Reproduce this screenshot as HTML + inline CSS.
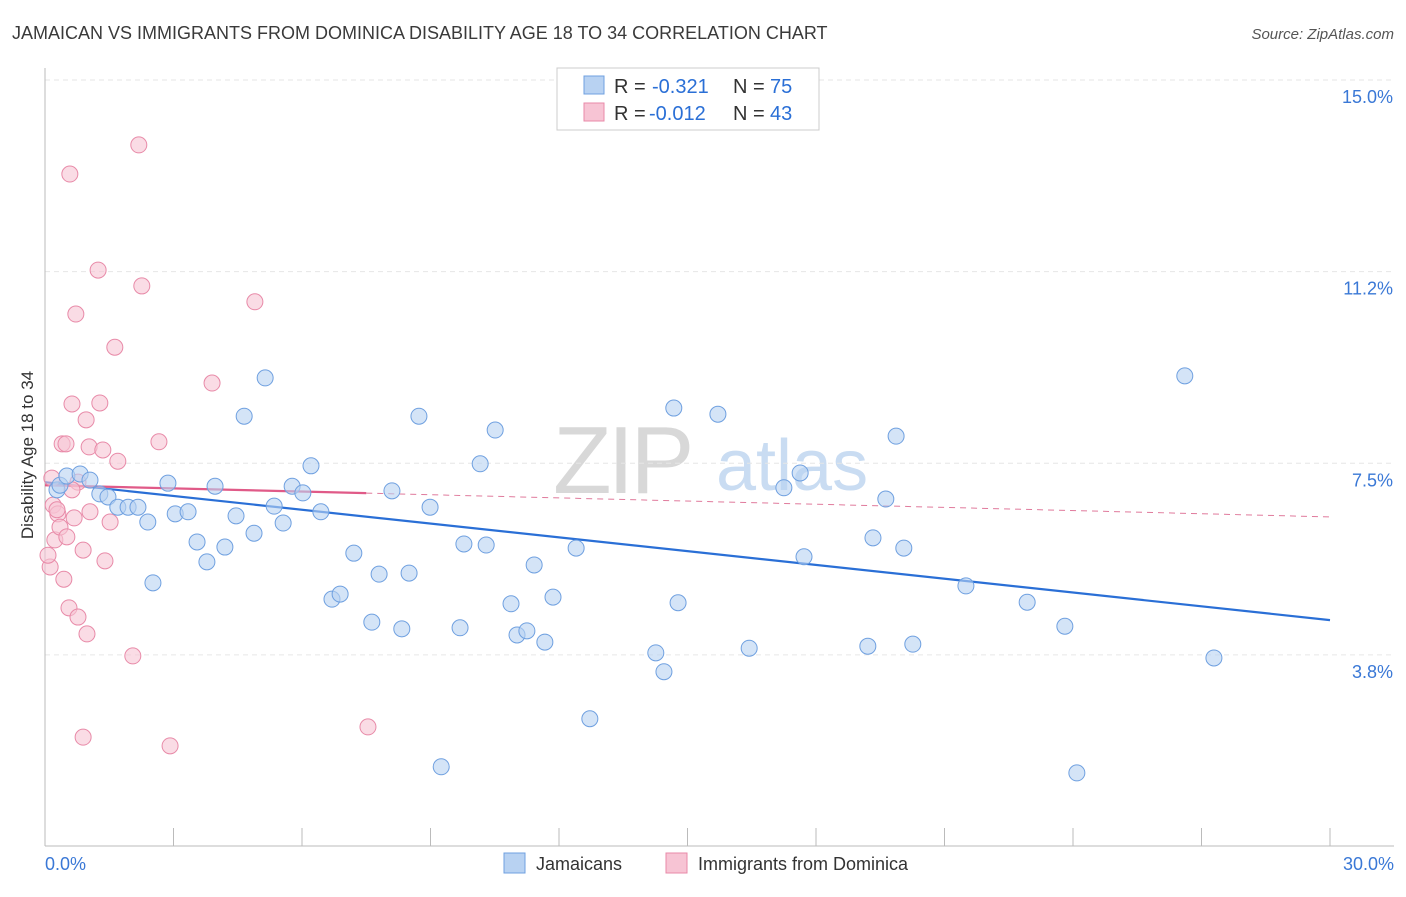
<!DOCTYPE html>
<html><head><meta charset="utf-8">
<style>
body{margin:0;background:#fff;font-family:"Liberation Sans",sans-serif;}
svg text{font-family:"Liberation Sans",sans-serif;}
</style></head>
<body>
<svg id="chart" width="1406" height="892" viewBox="0 0 1406 892">
<text x="12" y="39" font-size="18" fill="#3a3a3a">JAMAICAN VS IMMIGRANTS FROM DOMINICA DISABILITY AGE 18 TO 34 CORRELATION CHART</text>
<text x="1394" y="39" font-size="15" fill="#555" text-anchor="end" font-style="italic">Source: ZipAtlas.com</text>
<g>
<text x="553" y="493" font-size="96" fill="#d8d8d8" font-family="Liberation Serif" letter-spacing="-4">ZIP</text>
<text x="716" y="490" font-size="72" fill="#c9dcf2">atlas</text>
</g>
<text transform="translate(33,455) rotate(-90)" font-size="17" fill="#333" text-anchor="middle">Disability Age 18 to 34</text>
<g id="grid"></g>
<g id="axes"></g>
<g id="trend"></g>
<g id="points"></g>
<g>
<rect x="557" y="68" width="262" height="62" fill="#fff" stroke="#ccc"/>
<g>
<rect x="584" y="76" width="20" height="18" fill="#b8d2f2" stroke="#6fa0e0"/>
<text x="614" y="93" font-size="20" fill="#333">R =</text>
<text x="652" y="93" font-size="20" fill="#2a6fd6">-0.321</text>
<text x="733" y="93" font-size="20" fill="#333">N =</text>
<text x="770" y="93" font-size="20" fill="#2a6fd6">75</text>
</g>
<g>
<rect x="584" y="103" width="20" height="18" fill="#f7c4d4" stroke="#e88aa8"/>
<text x="614" y="120" font-size="20" fill="#333">R =</text>
<text x="649" y="120" font-size="20" fill="#2a6fd6">-0.012</text>
<text x="733" y="120" font-size="20" fill="#333">N =</text>
<text x="770" y="120" font-size="20" fill="#2a6fd6">43</text>
</g>
</g>
<g>
<g>
<rect x="504" y="853" width="21" height="20" fill="#b8d2f2" stroke="#6fa0e0"/>
<text x="536" y="870" font-size="18" fill="#333">Jamaicans</text>
</g>
<g>
<rect x="666" y="853" width="21" height="20" fill="#f7c4d4" stroke="#e88aa8"/>
<text x="698" y="870" font-size="18" fill="#333">Immigrants from Dominica</text>
</g>
</g>
</svg>
<script>
const yTicks=[15.0,11.25,7.5,3.75];
const yTickLabels=["15.0%","11.2%","7.5%","3.8%"];
const xTickLabels=["0.0%","30.0%"];
const blueX=[0.28,0.35,0.51,0.82,1.05,1.28,1.47,1.70,1.94,2.17,2.40,2.52,2.87,3.04,3.34,3.55,3.78,3.97,4.20,4.46,4.65,4.88,5.14,5.35,5.56,5.77,6.02,6.21,6.44,6.70,6.89,7.21,7.63,7.80,8.10,8.33,8.50,8.73,8.99,9.25,9.69,9.78,10.16,10.30,10.51,10.88,11.02,11.25,11.42,11.67,11.86,12.40,12.72,14.26,14.45,14.68,14.78,15.71,16.44,17.25,17.63,17.72,19.21,19.33,19.63,19.87,20.05,20.26,21.50,22.93,23.81,24.09,26.61,27.29];
const blueY=[6.98,7.07,7.25,7.29,7.17,6.90,6.84,6.64,6.64,6.64,6.35,5.16,7.11,6.51,6.55,5.96,5.57,7.05,5.86,6.47,8.42,6.13,9.17,6.66,6.33,7.05,6.92,7.45,6.55,4.84,4.94,5.74,4.39,5.33,6.96,4.26,5.35,8.42,6.64,1.56,4.28,5.92,7.49,5.90,8.15,4.75,4.14,4.22,5.51,4.00,4.88,5.84,2.50,3.79,3.42,8.58,4.77,8.46,3.88,7.02,7.31,5.67,3.92,6.04,6.80,8.03,5.84,3.96,5.10,4.78,4.31,1.44,9.21,3.69];
const pinkX=[0.16,0.19,0.23,0.30,0.12,0.28,0.35,0.40,0.49,0.51,0.56,0.58,0.63,0.68,0.72,0.77,0.77,0.89,0.89,0.96,0.98,1.03,1.05,1.24,1.28,1.35,1.40,1.52,1.63,1.70,2.05,2.19,2.26,2.66,2.92,3.90,4.90,7.54,0.44,0.07,0.63];
const pinkY=[7.21,6.68,6.00,6.51,5.47,6.59,6.25,7.88,7.88,6.06,4.67,13.16,8.66,6.43,10.42,7.13,4.49,2.14,5.80,8.35,4.16,7.82,6.55,11.28,8.68,7.76,5.59,6.35,9.77,7.54,3.73,13.73,10.97,7.92,1.97,9.07,10.66,2.34,5.23,5.70,6.98];
const blueTrend=[7.13,4.43];
const pinkTrend=[7.07,6.45];
const pinkSolidEnd=7.5;

const X0=45,X1=1330,Y15=80,PPU=51.1;
const sx=v=>X0+(v/30)*(X1-X0);
const sy=v=>Y15+(15-v)*PPU;
const NS="http://www.w3.org/2000/svg";
function mk(tag,attrs,parent){const e=document.createElementNS(NS,tag);for(const k in attrs)e.setAttribute(k,attrs[k]);parent.appendChild(e);return e;}
const grid=document.getElementById('grid'),axes=document.getElementById('axes'),trend=document.getElementById('trend'),pts=document.getElementById('points');
yTicks.forEach((t,i)=>{
  const l=mk('line',{x1:X0,x2:1394,y1:sy(t),y2:sy(t),stroke:'#e6e6e6','stroke-dasharray':'5,4'},grid);
  
  
  const tx=mk('text',{x:1393,y:sy(t)+23,'font-size':18,fill:'#3a78d6','text-anchor':'end'},grid);
  tx.textContent=yTickLabels[i];
  
  
});
const ya=mk('line',{x1:X0,x2:X0,y1:68,y2:846,stroke:'#bbb'},axes);


const xa=mk('line',{x1:X0,x2:1394,y1:846,y2:846,stroke:'#bbb'},axes);


for(let i=0;i<=10;i++){
  const t=mk('line',{x1:sx(i*3),x2:sx(i*3),y1:828,y2:846,stroke:'#bbb'},axes);
  
  
}
[[0,'start',45],[30,'end',1394]].forEach((d,i)=>{
  const tx=mk('text',{x:d[2],y:870,'font-size':18,fill:'#3a78d6','text-anchor':d[1]},axes);
  tx.textContent=xTickLabels[i];
  
  
});
const bt=mk('line',{x1:sx(0),x2:sx(30),y1:sy(blueTrend[0]),y2:sy(blueTrend[1]),stroke:'#2a6fd6','stroke-width':2.2},trend);


const pAt=x=>pinkTrend[0]+(pinkTrend[1]-pinkTrend[0])*x/30;
const pd=mk('line',{x1:sx(pinkSolidEnd),x2:sx(30),y1:sy(pAt(pinkSolidEnd)),y2:sy(pinkTrend[1]),stroke:'#e07a9c','stroke-width':1,'stroke-dasharray':'6,5'},trend);


const ps=mk('line',{x1:sx(0),x2:sx(pinkSolidEnd),y1:sy(pinkTrend[0]),y2:sy(pAt(pinkSolidEnd)),stroke:'#e05a88','stroke-width':2.2},trend);


pinkX.forEach((x,i)=>{
  const c=mk('circle',{cx:sx(x),cy:sy(pinkY[i]),r:8,fill:'#f7c4d4','fill-opacity':0.6,stroke:'#e88aa8','stroke-width':1},pts);
  
  
});
blueX.forEach((x,i)=>{
  const c=mk('circle',{cx:sx(x),cy:sy(blueY[i]),r:8,fill:'#b8d2f2','fill-opacity':0.6,stroke:'#6fa0e0','stroke-width':1},pts);
  
  
});
</script>
</body></html>
